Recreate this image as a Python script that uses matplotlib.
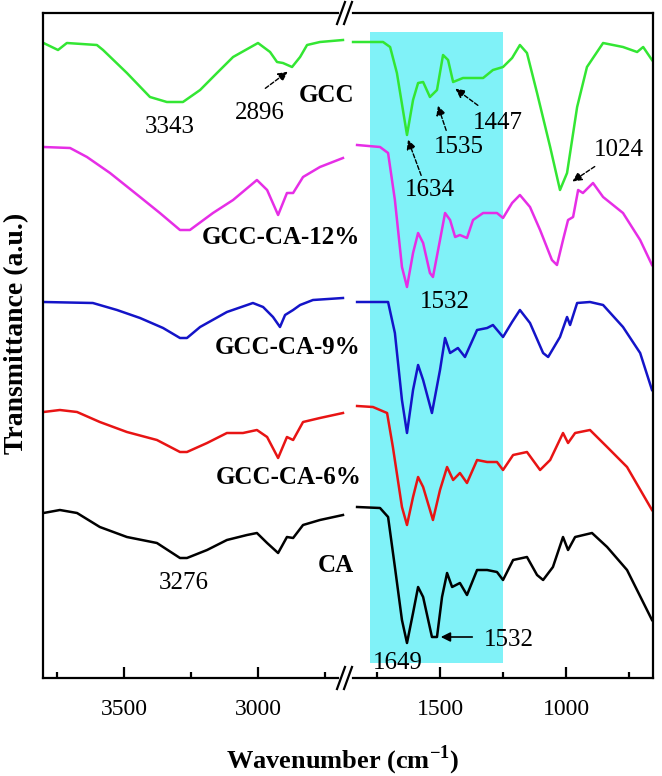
import numpy as np
import matplotlib
matplotlib.use("Agg")
import matplotlib.pyplot as plt
from matplotlib.lines import Line2D

plt.rcParams["font.family"] = ["Liberation Serif", "DejaVu Serif"]
plt.rcParams["mathtext.fontset"] = "custom"
plt.rcParams["mathtext.rm"] = "Liberation Serif"
plt.rcParams["mathtext.bf"] = "Liberation Serif:bold"

# ---- spectra (wavenumber in cm-1, transmittance in a.u. with offsets) ----
# high-wavenumber window
gcc_hi_wn = [3800, 3746, 3713, 3601, 3578, 3489, 3403, 3340, 3280, 3216, 3153, 3093,
             3000, 2955, 2929, 2907, 2873, 2843, 2817, 2769, 2683]
gcc_hi_t = [635, 628, 635, 633, 628, 605, 581, 576, 576, 588, 605, 621,
            635, 626, 616, 615, 611, 621, 633, 636, 638]
gcc_lo_wn = [1845, 1726, 1698, 1671, 1631, 1607, 1587, 1567, 1540, 1512, 1488, 1468,
             1448, 1409, 1329, 1290, 1250, 1214, 1183, 1155, 1115, 1063, 1024, 996,
             956, 917, 853, 774, 718, 694, 659]
gcc_lo_t = [636, 636, 631, 605, 543, 578, 595, 596, 581, 588, 623, 618,
            596, 600, 600, 608, 611, 620, 633, 625, 585, 531, 488, 505,
            571, 611, 635, 631, 626, 631, 618]

ca12_hi_wn = [3800, 3701, 3638, 3552, 3440, 3366, 3291, 3254, 3168, 3093, 3004, 2966,
              2925, 2892, 2869, 2832, 2769, 2683]
ca12_hi_t = [531, 530, 521, 505, 481, 465, 448, 448, 465, 478, 498, 488,
             463, 485, 485, 501, 511, 520]
ca12_lo_wn = [1829, 1738, 1706, 1679, 1651, 1631, 1607, 1587, 1567, 1540, 1528, 1500,
              1480, 1460, 1440, 1421, 1393, 1369, 1329, 1274, 1250, 1214, 1183, 1143,
              1103, 1056, 1036, 1012, 992, 972, 952, 933, 893, 853, 774, 706, 659]
ca12_lo_t = [533, 531, 525, 478, 411, 391, 425, 445, 435, 405, 401, 438,
             465, 458, 441, 443, 440, 458, 465, 465, 460, 475, 483, 471,
             448, 418, 413, 438, 458, 461, 488, 485, 495, 481, 465, 438, 413]

ca9_hi_wn = [3800, 3616, 3526, 3440, 3354, 3291, 3265, 3216, 3116, 3019, 2981, 2944,
             2918, 2899, 2869, 2843, 2795, 2683]
ca9_hi_t = [376, 375, 368, 360, 350, 340, 340, 351, 366, 375, 371, 361,
            351, 363, 368, 373, 378, 380]
ca9_lo_wn = [1829, 1706, 1679, 1651, 1631, 1607, 1587, 1567, 1532, 1500, 1480, 1460,
             1429, 1401, 1353, 1313, 1290, 1250, 1214, 1183, 1143, 1091, 1071, 1024,
             996, 984, 956, 905, 853, 774, 706, 659]
ca9_lo_t = [376, 376, 345, 278, 245, 288, 313, 298, 265, 308, 340, 325,
            330, 321, 348, 350, 353, 341, 356, 368, 355, 325, 321, 341,
            361, 353, 375, 376, 373, 351, 325, 288]

ca6_hi_wn = [3800, 3739, 3675, 3590, 3489, 3377, 3291, 3265, 3190, 3116, 3056, 3004,
             2966, 2925, 2892, 2869, 2832, 2769, 2683]
ca6_hi_t = [266, 268, 266, 256, 246, 238, 226, 226, 235, 245, 245, 248,
            241, 220, 241, 238, 256, 260, 265]
ca6_lo_wn = [1829, 1766, 1710, 1687, 1651, 1631, 1607, 1587, 1567, 1528, 1500, 1472,
             1448, 1421, 1393, 1353, 1313, 1274, 1250, 1210, 1155, 1103, 1063, 1012,
             992, 964, 905, 837, 758, 659]
ca6_lo_t = [272, 271, 265, 231, 171, 153, 181, 201, 191, 158, 188, 211,
            198, 205, 195, 218, 216, 216, 208, 223, 226, 208, 218, 245,
            235, 245, 248, 231, 211, 168]

ca_hi_wn = [3800, 3739, 3675, 3590, 3489, 3377, 3291, 3265, 3190, 3116, 3041, 3004,
            2966, 2925, 2892, 2869, 2832, 2769, 2683]
ca_hi_t = [165, 168, 165, 151, 141, 135, 120, 120, 128, 138, 143, 145,
           135, 125, 141, 140, 153, 158, 163]
ca_lo_wn = [1829, 1738, 1706, 1679, 1651, 1631, 1607, 1587, 1567, 1532, 1512, 1492,
            1472, 1452, 1421, 1393, 1353, 1313, 1274, 1250, 1210, 1155, 1115, 1091,
            1052, 1012, 992, 964, 897, 837, 758, 659]
ca_lo_t = [171, 170, 161, 111, 58, 35, 65, 91, 81, 41, 41, 81,
           105, 91, 95, 83, 108, 108, 106, 98, 118, 121, 103, 98,
           111, 141, 128, 141, 145, 131, 108, 58]

spectra = [
    ("GCC", "#33E633", gcc_hi_wn, gcc_hi_t, gcc_lo_wn, gcc_lo_t),
    ("GCC-CA-12%", "#E62EE6", ca12_hi_wn, ca12_hi_t, ca12_lo_wn, ca12_lo_t),
    ("GCC-CA-9%", "#1414C8", ca9_hi_wn, ca9_hi_t, ca9_lo_wn, ca9_lo_t),
    ("GCC-CA-6%", "#E81414", ca6_hi_wn, ca6_hi_t, ca6_lo_wn, ca6_lo_t),
    ("CA", "#000000", ca_hi_wn, ca_hi_t, ca_lo_wn, ca_lo_t),
]

# sample labels (placed in the high-wavenumber axis coordinates)
label_pos = {"GCC": (2743, 583), "GCC-CA-12%": (2914, 440), "GCC-CA-9%": (2888, 331),
             "GCC-CA-6%": (2884, 201), "CA": (2709, 113)}

fig = plt.figure(figsize=(6.62, 7.76), dpi=100)
ax1 = fig.add_axes([43 / 662, 98 / 776, 304 / 662, 665 / 776])
ax2 = fig.add_axes([347 / 662, 98 / 776, 306 / 662, 665 / 776])

for ax in (ax1, ax2):
    ax.set_ylim(0, 665)
    ax.set_yticks([])
    ax.patch.set_visible(False)
    for s in ax.spines.values():
        s.set_linewidth(1.6)
    ax.tick_params(axis="x", which="both", direction="in", top=False,
                   width=1.6, labelsize=17, pad=15)
    ax.tick_params(axis="x", which="major", length=8)
    ax.tick_params(axis="x", which="minor", length=4)

ax1.set_xlim(3802, 2668)
ax2.set_xlim(1869, 655)
ax1.set_xticks([3500, 3000])
ax1.set_xticks([3750, 3250, 2750], minor=True)
ax2.set_xticks([1500, 1000])
ax2.set_xticks([1750, 1250, 750], minor=True)

ax1.spines["right"].set_visible(False)
ax2.spines["left"].set_visible(False)
ax1.spines["top"].set_bounds(3802, 2701)
ax1.spines["bottom"].set_bounds(3802, 2701)
ax2.spines["top"].set_bounds(1845, 655)
ax2.spines["bottom"].set_bounds(1845, 655)

# highlighted amide region
ax2.fill_between([1778, 1250], 15, 646, color="#80F2F8", lw=0, zorder=0)

for name, col, hw, ht, lw_, lt in spectra:
    ax1.plot(hw, ht, color=col, lw=1.8)
    ax2.plot(lw_, lt, color=col, lw=1.8)
    ax1.text(*label_pos[name], name, fontsize=18, fontweight="bold",
             ha="center", va="center", clip_on=False, zorder=5)

num = dict(fontsize=18, ha="center", va="center")
arr = dict(arrowstyle="-|>", color="black", lw=1, mutation_scale=14, linestyle=(0, (3, 1.5)))

ax1.text(3328, 551, "3343", **num)
ax1.text(3276, 95, "3276", **num)
ax1.text(2993, 565, "2896", **num)
ax1.annotate("", xy=(2881, 608), xytext=(2981, 588), arrowprops=arr)

ax2.text(1540, 488, "1634", **num)
ax2.annotate("", xy=(1631, 541), xytext=(1571, 500), arrowprops=arr)
ax2.text(1425, 531, "1535", **num)
ax2.annotate("", xy=(1512, 575), xytext=(1472, 545), arrowprops=arr)
ax2.text(1270, 555, "1447", **num)
ax2.annotate("", xy=(1448, 591), xytext=(1341, 571), arrowprops=arr)
ax2.text(790, 528, "1024", **num)
ax2.annotate("", xy=(984, 495), xytext=(877, 513), arrowprops=arr)
ax2.text(1480, 376, "1532", **num)
ax2.text(1226, 38, "1532", **num)
ax2.annotate("", xy=(1508, 41), xytext=(1361, 41),
             arrowprops=dict(arrowstyle="-|>", color="black", lw=1.2, mutation_scale=14))
ax2.text(1667, 15, "1649", **num)

# axis break marks
for ys in (13, 678):
    for cx in (341, 348):
        fig.add_artist(Line2D([(cx - 4) / 662, (cx + 4) / 662],
                              [1 - (ys + 11) / 776, 1 - (ys - 11) / 776],
                              transform=fig.transFigure, color="black", lw=1.6))

fig.text(343 / 662, 1 - 760 / 776, r"Wavenumber (cm$^{\mathbf{-1}}$)", fontsize=19,
         fontweight="bold", ha="center", va="center")
fig.text(17 / 662, 1 - 333 / 776, "Transmittance (a.u.)", fontsize=20,
         fontweight="bold", ha="center", va="center", rotation=90)

fig.savefig("out.png", dpi=100)
